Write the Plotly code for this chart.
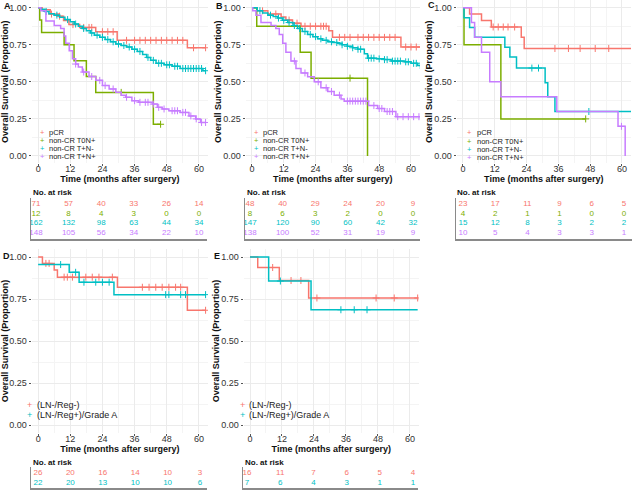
import plotly.graph_objects as go

W, H = 633, 492
FONT = "Liberation Sans, Arial, sans-serif"
RED, GREEN, TEAL, PURPLE = "#F8766D", "#7CAE00", "#00BFC4", "#C77CFF"

# ---------------- data ----------------
risk_times = [0, 12, 24, 36, 48, 60]
x_ticks = [0, 12, 24, 36, 48, 60]
y_ticks = [0, 0.25, 0.5, 0.75, 1.0]
y_tick_text = ["0.00", "0.25", "0.50", "0.75", "1.00"]

groups4 = ["pCR", "non-CR T0N+", "non-CR T+N-", "non-CR T+N+"]
groups2 = ["(LN-/Reg-)", "(LN-/Reg+)/Grade A"]

# Panel A
A_pcr_t = [0, 1.5, 4.5, 7.5, 9.5, 11.5, 15.5, 21.5, 29.5, 55.7]
A_pcr_s = [1, 0.986, 0.957, 0.943, 0.914, 0.886, 0.867, 0.838, 0.78, 0.73]
A_pcr_end = 62.5
A_pcr_cens = [5, 8, 13, 17, 19, 20, 24, 26, 28, 33, 36, 38, 40, 42, 44, 46, 48, 50, 52, 54, 58, 62.5]
A_t0n_t = [0, 0.6, 1.3, 9.7, 13.4, 18, 21.5, 43]
A_t0n_s = [1, 0.917, 0.833, 0.75, 0.643, 0.536, 0.429, 0.214]
A_t0n_end = 45.7
A_t0n_cens = [31, 45.7]
A_tneg_t = [0, 1, 2.5, 4, 6, 8, 10, 12, 13.5, 15, 16.5, 18, 19.5, 21, 23, 25, 27, 29, 31, 33, 35, 37, 39, 40.5, 42, 44, 47, 50, 53, 61.5]
A_tneg_s = [1, 0.99, 0.975, 0.96, 0.95, 0.935, 0.92, 0.905, 0.89, 0.875, 0.86, 0.845, 0.83, 0.815, 0.8, 0.785, 0.77, 0.755, 0.745, 0.735, 0.72, 0.705, 0.685, 0.665, 0.645, 0.625, 0.615, 0.605, 0.59, 0.575]
A_tneg_end = 62.5
A_tneg_cens = [3, 7, 11, 14, 17, 20, 22, 24, 26, 28, 30, 32, 34, 36, 38, 41, 43, 45, 46, 48, 49, 51, 52, 54, 55, 56, 57, 58, 59, 60, 61, 62.5]
A_tpos_t = [0, 1, 2.9, 6, 8.4, 9.7, 10.3, 11.6, 12.8, 14, 15, 16.5, 19, 21.5, 24, 26.5, 29, 31, 32.7, 35, 37.6, 42.6, 44.5, 46.3, 48.8, 53, 56.3, 58.8, 60.6]
A_tpos_s = [1, 0.98, 0.91, 0.88, 0.86, 0.81, 0.76, 0.71, 0.656, 0.62, 0.6, 0.566, 0.536, 0.51, 0.475, 0.452, 0.43, 0.41, 0.396, 0.373, 0.362, 0.35, 0.328, 0.317, 0.305, 0.294, 0.27, 0.25, 0.226]
A_tpos_end = 62.5
A_tpos_cens = [14, 17, 20, 23, 25, 28, 33, 36, 38, 40, 41, 43, 45, 47, 50, 51, 52, 54, 55, 57, 59, 61, 62.5]
A_risk = [[71, 57, 40, 33, 26, 14], [12, 8, 4, 3, 0, 0], [162, 132, 98, 63, 44, 34], [148, 105, 56, 34, 22, 10]]

# Panel B
B_pcr_t = [0, 2, 6, 11, 12.8, 15.3, 18.5, 29, 30.4, 56.2]
B_pcr_s = [1, 0.979, 0.958, 0.938, 0.917, 0.896, 0.875, 0.845, 0.8, 0.735]
B_pcr_end = 63.8
B_pcr_cens = [4, 9, 14, 17, 20, 22, 24, 26, 27, 28, 33, 35, 37, 40, 42, 44, 46, 48, 50, 52, 54, 58, 60, 62, 63.8]
B_t0n_t = [0, 1.8, 18.2, 22.3, 43.6]
B_t0n_s = [1, 0.875, 0.7, 0.525, 0.0]
B_t0n_end = 43.6
B_t0n_cens = [37]
B_tneg_t = [0, 2, 4, 6, 8, 9.7, 11.5, 13.5, 15.5, 17.2, 19, 21, 23, 24.8, 26.5, 28.6, 30.5, 32.3, 34, 36, 38, 39.9, 42.4, 43.6, 47, 50, 52.5, 57.5, 60, 62.5]
B_tneg_s = [1, 0.98, 0.965, 0.95, 0.94, 0.93, 0.915, 0.9, 0.88, 0.86, 0.84, 0.82, 0.805, 0.79, 0.78, 0.77, 0.765, 0.76, 0.75, 0.74, 0.73, 0.72, 0.69, 0.66, 0.655, 0.65, 0.64, 0.635, 0.625, 0.61]
B_tneg_end = 63.8
B_tneg_cens = [3, 7, 10, 12, 14, 16, 18, 20, 22, 24, 26, 28, 30, 32, 34, 36, 38, 40, 41, 44, 45, 46, 48, 50, 51, 53, 54, 55, 56, 58, 59, 61, 62, 63.5]
B_tpos_t = [0, 0.3, 1.5, 3.4, 7.2, 9, 10.3, 11.6, 12.8, 14.7, 16.6, 18.5, 21, 23.5, 26, 28.6, 31, 33.6, 34.8, 44, 47.4, 50, 54.3]
B_tpos_s = [1, 0.98, 0.95, 0.9, 0.88, 0.86, 0.82, 0.76, 0.7, 0.64, 0.59, 0.56, 0.535, 0.5, 0.46, 0.435, 0.41, 0.385, 0.37, 0.34, 0.32, 0.3, 0.265]
B_tpos_end = 63.8
B_tpos_cens = [16, 20, 25, 28, 30, 33, 36, 37, 38, 39, 40, 41, 42, 43, 46, 48, 49, 51, 52, 53, 55, 57, 59, 61, 63]
B_risk = [[48, 40, 29, 24, 20, 9], [8, 6, 3, 2, 0, 0], [147, 120, 90, 60, 42, 32], [138, 100, 52, 31, 19, 9]]

# Panel C
C_pcr_t = [0, 2.5, 7, 10.7, 22, 23.1]
C_pcr_s = [1, 0.957, 0.913, 0.87, 0.8, 0.725]
C_pcr_end = 63.8
C_pcr_cens = [11.4, 13.3, 15.2, 17, 19.5, 34.7, 39.8, 44.2, 49.9, 55, 63.8]
C_t0n_t = [0, 0.4, 14.3]
C_t0n_s = [1, 0.75, 0.25]
C_t0n_end = 46.3
C_t0n_cens = [46.3]
C_tneg_t = [0, 0.4, 2.5, 4.4, 15.8, 17.7, 20.2, 31, 32, 34.7]
C_tneg_s = [1, 0.933, 0.867, 0.8, 0.733, 0.667, 0.593, 0.494, 0.4, 0.3]
C_tneg_end = 63.8
C_tneg_cens = [26, 28.5, 47.5, 63.8]
C_tpos_t = [0, 3.2, 4.4, 7, 10.1, 14.3, 35.4, 58.5, 61.2]
C_tpos_s = [1, 0.9, 0.8, 0.7, 0.5, 0.4, 0.3, 0.2, 0.0]
C_tpos_end = 61.2
C_tpos_cens = [59.8]
C_risk = [[23, 17, 11, 9, 6, 5], [4, 2, 1, 1, 0, 0], [15, 12, 8, 3, 2, 2], [10, 5, 4, 3, 3, 1]]

# Panel D
D_neg_t = [0, 1.6, 6, 7.2, 29.6, 55.7]
D_neg_s = [1, 0.962, 0.923, 0.88, 0.82, 0.683]
D_neg_end = 62.5
D_neg_cens = [2.9, 4.1, 9.7, 10.9, 12.8, 17.8, 20.2, 22.7, 27.7, 38.9, 41.4, 43.9, 46.3, 48.8, 51.3, 53.2, 62.5]
D_pos_t = [0, 11.6, 15.3, 28.3]
D_pos_s = [0.955, 0.909, 0.85, 0.776]
D_pos_end = 62.5
D_pos_cens = [8.4, 14, 17.1, 21.5, 24, 26.5, 47.6, 48.8, 53.2, 55, 62.5]
D_risk = [[26, 20, 16, 14, 10, 3], [22, 20, 13, 10, 10, 6]]

# Panel E
E_neg_t = [0, 2.9, 11, 22]
E_neg_s = [1, 0.9375, 0.86, 0.756]
E_neg_end = 62.9
E_neg_cens = [8.5, 15.4, 19.1, 25.1, 47.3, 54.1, 62.9]
E_pos_t = [0, 7, 22.9]
E_pos_s = [1, 0.857, 0.686]
E_pos_end = 62.9
E_pos_cens = [11.4, 34.1, 39.1, 43.9]
E_risk = [[16, 11, 7, 6, 5, 4], [7, 6, 4, 3, 1, 1]]

# ---------------- helpers ----------------
def fx(px):
    return px / W


def fy(py):
    return 1 - py / H


def surv_at(ts, ss, t):
    v = ss[0]
    for ti, si in zip(ts, ss):
        if ti <= t:
            v = si
    return v


fig = go.Figure()
annotations = []


def add_curve(idx, ts, ss, end, cens, color, name):
    ax = "x" if idx == 1 else f"x{idx}"
    ay = "y" if idx == 1 else f"y{idx}"
    fig.add_trace(go.Scatter(
        x=list(ts) + [end], y=list(ss) + [ss[-1]], mode="lines",
        line=dict(color=color, width=1.5, shape="hv"),
        xaxis=ax, yaxis=ay, name=name, showlegend=False, hoverinfo="skip"))
    fig.add_trace(go.Scatter(
        x=cens, y=[surv_at(ts, ss, c) for c in cens], mode="markers",
        marker=dict(symbol="cross-thin", size=5, line=dict(color=color, width=1)),
        xaxis=ax, yaxis=ay, name=name, showlegend=False, hoverinfo="skip"))


def plot_axes(idx, xdom, ydom):
    common_font = dict(family=FONT, size=9, color="#333333")
    xa = dict(domain=[fx(xdom[0]), fx(xdom[1])], range=[-2.4, 63.4],
              tickvals=x_ticks, ticks="outside", ticklen=2, tickcolor="#555555",
              tickfont=common_font, showgrid=True, gridcolor="#EBEBEB", gridwidth=0.7,
              minor=dict(showgrid=True, tick0=0, dtick=6, gridcolor="#F4F4F4", gridwidth=0.5),
              zeroline=False, showline=False, ticklabelstandoff=-5,
              title=dict(text="<b>Time (months after surgery)</b>",
                         font=dict(family=FONT, size=9, color="#111111"), standoff=1),
              anchor="y" if idx == 1 else f"y{idx}")
    ya = dict(domain=[fy(ydom[1]), fy(ydom[0])], range=[-0.05, 1.05],
              tickvals=y_ticks, ticktext=y_tick_text, ticks="outside", ticklen=2,
              tickcolor="#555555", tickfont=common_font, showgrid=True,
              gridcolor="#EBEBEB", gridwidth=0.7,
              minor=dict(showgrid=True, tick0=0, dtick=0.125, gridcolor="#F4F4F4", gridwidth=0.5),
              zeroline=False, showline=False,
              title=dict(text="<b>Overall Survival (Proportion)</b>",
                         font=dict(family=FONT, size=9, color="#111111"), standoff=0),
              anchor="x" if idx == 1 else f"x{idx}")
    return xa, ya


def risk_axes(idx, xdom, xrange, ydom, yrange):
    xa = dict(domain=[fx(xdom[0]), fx(xdom[1])], range=xrange, showgrid=False,
              zeroline=False, showticklabels=False, ticks="", showline=True,
              linecolor="#8A8A8A", linewidth=1.6, anchor=f"y{idx}")
    ya = dict(domain=[fy(ydom[1]), fy(ydom[0])], range=yrange, showgrid=False,
              zeroline=False, showticklabels=False, ticks="", showline=True,
              linecolor="#8A8A8A", linewidth=1.0, anchor=f"x{idx}")
    return xa, ya


def add_risk(idx, table, colors, size=8):
    for r, (row, col) in enumerate(zip(table, colors)):
        fig.add_trace(go.Scatter(
            x=risk_times, y=[r] * len(risk_times), text=[str(v) for v in row],
            mode="text", textfont=dict(family=FONT, size=size, color=col),
            xaxis=f"x{idx}", yaxis=f"y{idx}", showlegend=False, hoverinfo="skip"))


def add_legend(sym_x, text_x, ys, labels, colors, size):
    for y, lab, col in zip(ys, labels, colors):
        annotations.append(dict(x=fx(sym_x), y=fy(y), xref="paper", yref="paper",
                                text="+", showarrow=False, xanchor="center", yanchor="middle",
                                font=dict(family=FONT, size=size, color=col)))
        annotations.append(dict(x=fx(text_x), y=fy(y), xref="paper", yref="paper",
                                text=lab, showarrow=False, xanchor="left", yanchor="middle",
                                font=dict(family=FONT, size=size, color="#222222")))


def add_label(x, y, txt, size=9, bold=True):
    annotations.append(dict(x=fx(x), y=fy(y), xref="paper", yref="paper",
                            text=f"<b>{txt}</b>" if bold else txt, showarrow=False,
                            xanchor="left", yanchor="middle",
                            font=dict(family=FONT, size=size, color="#111111")))


cols4 = [RED, GREEN, TEAL, PURPLE]
cols2 = [RED, TEAL]

# ---------------- curves ----------------
add_curve(1, A_pcr_t, A_pcr_s, A_pcr_end, A_pcr_cens, RED, groups4[0])
add_curve(1, A_t0n_t, A_t0n_s, A_t0n_end, A_t0n_cens, GREEN, groups4[1])
add_curve(1, A_tneg_t, A_tneg_s, A_tneg_end, A_tneg_cens, TEAL, groups4[2])
add_curve(1, A_tpos_t, A_tpos_s, A_tpos_end, A_tpos_cens, PURPLE, groups4[3])

add_curve(2, B_pcr_t, B_pcr_s, B_pcr_end, B_pcr_cens, RED, groups4[0])
add_curve(2, B_t0n_t, B_t0n_s, B_t0n_end, B_t0n_cens, GREEN, groups4[1])
add_curve(2, B_tneg_t, B_tneg_s, B_tneg_end, B_tneg_cens, TEAL, groups4[2])
add_curve(2, B_tpos_t, B_tpos_s, B_tpos_end, B_tpos_cens, PURPLE, groups4[3])

add_curve(3, C_pcr_t, C_pcr_s, C_pcr_end, C_pcr_cens, RED, groups4[0])
add_curve(3, C_t0n_t, C_t0n_s, C_t0n_end, C_t0n_cens, GREEN, groups4[1])
add_curve(3, C_tneg_t, C_tneg_s, C_tneg_end, C_tneg_cens, TEAL, groups4[2])
add_curve(3, C_tpos_t, C_tpos_s, C_tpos_end, C_tpos_cens, PURPLE, groups4[3])

add_curve(4, D_neg_t, D_neg_s, D_neg_end, D_neg_cens, RED, groups2[0])
add_curve(4, D_pos_t, D_pos_s, D_pos_end, D_pos_cens, TEAL, groups2[1])

add_curve(5, E_neg_t, E_neg_s, E_neg_end, E_neg_cens, RED, groups2[0])
add_curve(5, E_pos_t, E_pos_s, E_pos_end, E_pos_cens, TEAL, groups2[1])

# ---------------- risk tables ----------------
add_risk(6, A_risk, cols4)
add_risk(7, B_risk, cols4)
add_risk(8, C_risk, cols4)
add_risk(9, D_risk, cols2)
add_risk(10, E_risk, cols2)

layout_axes = {}
plot_specs = {1: ((31.7, 208.0), (0.3, 163.4)), 2: ((245.6, 420.0), (0.3, 163.4)),
              3: ((456.6, 631.0), (0.3, 163.4)), 4: ((31.7, 208.0), (248.6, 433.4)),
              5: ((243.6, 419.0), (248.6, 433.4))}
for i, (xd, yd) in plot_specs.items():
    xa, ya = plot_axes(i, xd, yd)
    layout_axes["xaxis" if i == 1 else f"xaxis{i}"] = xa
    layout_axes["yaxis" if i == 1 else f"yaxis{i}"] = ya

risk_specs = {6: ((31, 207), [-1.84, 62.94], (198, 239), [3.62, -0.62]),
              7: ((245, 420), [-1.84, 62.57], (198, 239), [3.62, -0.62]),
              8: ((456, 632), [-2.61, 62.99], (198, 239), [3.62, -0.62]),
              9: ((31, 207), [-2.59, 62.6], (467, 488), [1.5, -0.6]),
              10: ((243, 418), [-1.45, 61.8], (467, 488), [1.5, -0.6])}
for i, (xd, xr, yd, yr) in risk_specs.items():
    xa, ya = risk_axes(i, xd, xr, yd, yr)
    layout_axes[f"xaxis{i}"] = xa
    layout_axes[f"yaxis{i}"] = ya

# ---------------- legends, labels ----------------
add_legend(42, 47, [132, 140, 148, 156], groups4, cols4, 7.5)
add_legend(256, 261, [132, 140, 148, 156], groups4, cols4, 7.5)
add_legend(469, 475, [133, 141, 149, 157], groups4, cols4, 7.5)
add_legend(30, 35, [405, 415], groups2, cols2, 9)
add_legend(242, 247, [405, 415], groups2, cols2, 9)

for x, y in [(31, 192), (245, 192), (455, 192), (31, 462), (243, 462)]:
    add_label(x, y, "No. at risk", size=8)

for x, y, t in [(2, 6, "A"), (214, 6, "B"), (426, 5, "C"), (1, 256, "D"), (212, 256, "E")]:
    add_label(x, y, t, size=9)

fig.update_layout(
    width=W, height=H, margin=dict(l=0, r=0, t=0, b=0),
    paper_bgcolor="white", plot_bgcolor="white",
    font=dict(family=FONT, size=9, color="#333333"),
    showlegend=False, annotations=annotations, **layout_axes)

fig.write_html(
    "out.html",
    config={"displayModeBar": False},
    post_script="document.body.style.margin='0';document.body.style.padding='0';"
                "document.body.style.overflow='hidden';")
